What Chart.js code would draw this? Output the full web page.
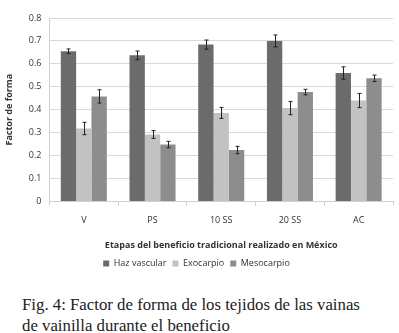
<!DOCTYPE html>
<html>
<head>
<meta charset="utf-8">
<script src="https://cdn.jsdelivr.net/npm/chart.js@4"></script>
<style>
  html, body { margin: 0; padding: 0; background: #fff; }
  #wrap { position: relative; width: 399px; height: 278px; }
  .caption { font-family: "Liberation Serif", serif; font-size: 16.8px; color: #222; margin: 16px 0 0 22px; line-height: 21px; white-space: nowrap; }
</style>
</head>
<body>
<div id="wrap"><canvas id="chart"></canvas></div>
<div class="caption">Fig. 4: Factor de forma de los tejidos de las vainas<br>de vainilla durante el beneficio</div>
<script>
const stages = ['V', 'PS', '10 SS', '20 SS', 'AC'];
const haz = [0.655, 0.637, 0.684, 0.700, 0.560];
const exo = [0.318, 0.292, 0.386, 0.407, 0.440];
const meso = [0.458, 0.248, 0.224, 0.477, 0.537];
const hazErr = [0.010, 0.019, 0.020, 0.026, 0.027];
const exoErr = [0.027, 0.017, 0.024, 0.029, 0.031];
const mesoErr = [0.029, 0.014, 0.016, 0.012, 0.014];

const errorBars = {
  id: 'errorBars',
  afterDatasetsDraw(chart) {
    const ctx = chart.ctx;
    const y = chart.scales.y;
    ctx.save();
    ctx.strokeStyle = '#222';
    ctx.lineWidth = 1;
    chart.data.datasets.forEach((ds, i) => {
      const meta = chart.getDatasetMeta(i);
      meta.data.forEach((bar, j) => {
        const v = ds.data[j], e = ds.errors[j];
        const top = y.getPixelForValue(v + e);
        const bot = y.getPixelForValue(v - e);
        const x = Math.round(bar.x) + 0.5;
        ctx.beginPath();
        ctx.moveTo(x, top); ctx.lineTo(x, bot);
        ctx.moveTo(x - 2, top); ctx.lineTo(x + 2, top);
        ctx.moveTo(x - 2, bot); ctx.lineTo(x + 2, bot);
        ctx.stroke();
      });
    });
    ctx.restore();
  }
};

new Chart(document.getElementById('chart'), {
  type: 'bar',
  data: {
    labels: stages,
    datasets: [
      { label: 'Haz vascular', data: haz, errors: hazErr, backgroundColor: '#6b6b6b' },
      { label: 'Exocarpio', data: exo, errors: exoErr, backgroundColor: '#c2c2c2' },
      { label: 'Mesocarpio', data: meso, errors: mesoErr, backgroundColor: '#8d8d8d' }
    ]
  },
  options: {
    responsive: true,
    maintainAspectRatio: false,
    animation: false,
    categoryPercentage: 0.67,
    barPercentage: 1.0,
    layout: { padding: { top: 18, right: 6, left: 0, bottom: 0 } },
    plugins: {
      legend: {
        position: 'bottom',
        labels: { boxWidth: 6, boxHeight: 6, padding: 6, color: '#333', font: { family: 'Open Sans', size: 9 } }
      },
      tooltip: { enabled: false }
    },
    scales: {
      x: {
        grid: { display: true, drawOnChartArea: false, color: '#d0d0d0', tickLength: 4, offset: true },
        border: { color: '#d0d0d0' },
        ticks: { color: '#333', font: { family: 'Open Sans', size: 9 }, padding: 10 },
        title: { display: true, text: 'Etapas del beneficio tradicional realizado en México', color: '#333', font: { family: 'Open Sans', size: 9, weight: 'bold' }, padding: { top: 4, bottom: 2 } }
      },
      y: {
        min: 0, max: 0.8,
        grid: { color: '#d9d9d9', drawTicks: false },
        border: { color: '#d0d0d0', display: true },
        ticks: { stepSize: 0.1, color: '#333', font: { family: 'Open Sans', size: 9 }, padding: 8, callback: v => (Math.round(v * 10) / 10).toString() },
        title: { display: true, text: 'Factor de forma', color: '#333', font: { family: 'Open Sans', size: 9, weight: 'bold' }, padding: { bottom: 6 } }
      }
    }
  },
  plugins: [errorBars]
});
</script>
</body>
</html>
